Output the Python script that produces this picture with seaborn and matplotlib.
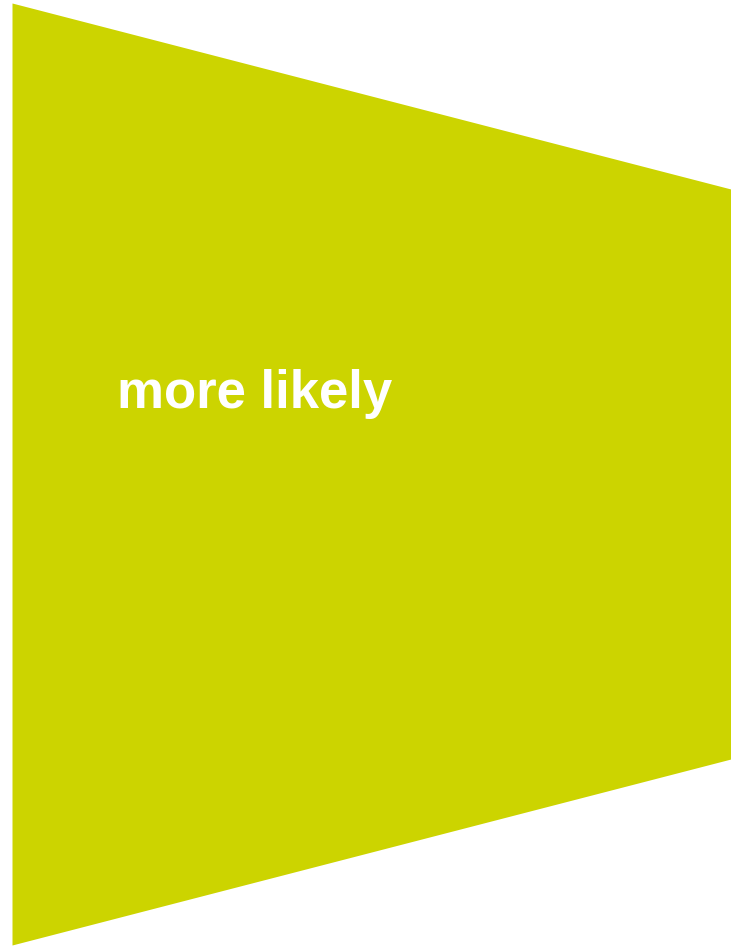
import matplotlib.pyplot as plt
import seaborn as sns
import numpy as np

# one funnel stage: width at its left and right edge (percent of start)
stage_edges = [0, 1]
stage_widths = [100, 60.5]
stage_label = "more likely"
stage_color = "#ccd400"

sns.set_theme(style="white")
plt.rcParams["font.family"] = ["Liberation Sans", "DejaVu Sans"]

fig = plt.figure(figsize=(7.31, 9.46), dpi=100)
ax = fig.add_axes([12 / 731, 1 / 946, 719 / 731, 942 / 946])

half = np.array(stage_widths) / 2
ax.fill_between(stage_edges, -half, half, color=stage_color, linewidth=0)
ax.text(0.146, 7.0, stage_label, color="white", fontsize=38,
        fontweight="bold", ha="left", va="baseline")

ax.set_xlim(0, 1)
ax.set_ylim(-50, 50)
ax.axis("off")

fig.savefig("out.png", dpi=100)
plt.close(fig)
